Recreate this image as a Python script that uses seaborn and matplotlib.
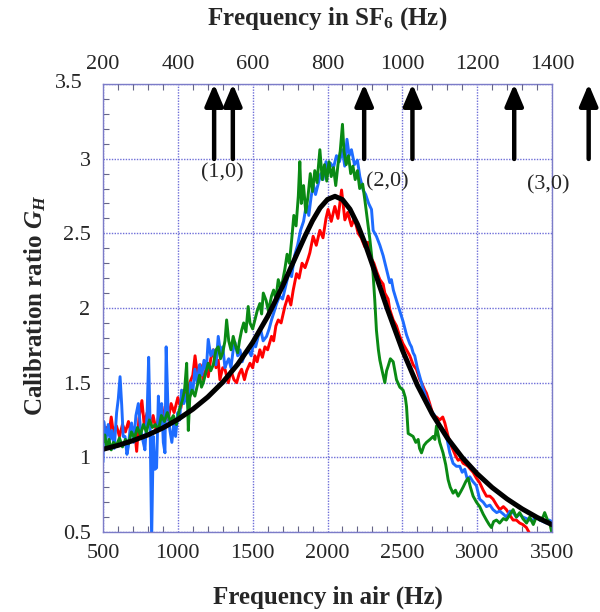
import numpy as np
import pandas as pd
import matplotlib
matplotlib.use("Agg")
import matplotlib.pyplot as plt
import seaborn as sns
from matplotlib.ticker import MultipleLocator

# ---------------- data ----------------
red_freq = [500, 510, 525, 540, 555, 570, 590, 610, 630, 650, 670, 690, 710, 725, 740, 760, 775, 795, 815, 835,
            855, 875, 895, 915, 935, 955, 975, 1000, 1020, 1040, 1060, 1080, 1100, 1115, 1130, 1150, 1170, 1190,
            1203, 1220, 1237, 1255, 1270, 1281, 1300, 1315, 1337, 1355, 1375, 1393, 1410, 1426, 1445, 1460, 1482,
            1500, 1515, 1530, 1548, 1565, 1582, 1600, 1626, 1640, 1655, 1671, 1690, 1715, 1737, 1755, 1771, 1793,
            1810, 1830, 1850, 1870, 1882, 1904, 1925, 1949, 1970, 1990, 2004, 2025, 2049, 2070, 2094, 2116, 2135,
            2160, 2180, 2205, 2225, 2249, 2270, 2294, 2310, 2330, 2350, 2372, 2383, 2405, 2416, 2439, 2461, 2483,
            2505, 2528, 2550, 2572, 2594, 2617, 2628, 2650, 2661, 2683, 2706, 2728, 2750, 2770, 2784, 2806, 2825,
            2839, 2856, 2873, 2890, 2906, 2925, 2939, 2955, 2973, 2995, 3017, 3040, 3062, 3085, 3106, 3130, 3151,
            3175, 3195, 3220, 3240, 3262, 3284, 3305, 3329, 3351, 3375, 3400, 3430, 3460, 3500]
red_G = [1.24, 1.12, 1.20, 1.15, 1.27, 1.16, 1.21, 1.14, 1.22, 1.17, 1.24, 1.15, 1.20, 1.04, 1.26, 1.38, 1.22, 1.30,
         1.20, 1.28, 1.18, 1.30, 1.22, 1.34, 1.25, 1.36, 1.30, 1.40, 1.33, 1.45, 1.38, 1.50, 1.55, 1.68, 1.56, 1.62,
         1.52, 1.60, 1.54, 1.66, 1.72, 1.60, 1.65, 1.52, 1.60, 1.59, 1.50, 1.58, 1.52, 1.50, 1.56, 1.59, 1.52, 1.58,
         1.63, 1.60, 1.68, 1.64, 1.72, 1.67, 1.74, 1.72, 1.81, 1.78, 1.88, 1.92, 1.90, 2.01, 2.08, 2.02, 2.12, 2.23,
         2.20, 2.30, 2.27, 2.33, 2.37, 2.48, 2.42, 2.52, 2.47, 2.60, 2.66, 2.58, 2.68, 2.60, 2.79, 2.59, 2.64, 2.55,
         2.60, 2.50, 2.47, 2.41, 2.44, 2.33, 2.30, 2.24, 2.19, 2.16, 2.10, 2.06, 1.99, 1.92, 1.88, 1.81, 1.76, 1.72,
         1.68, 1.62, 1.59, 1.52, 1.50, 1.45, 1.43, 1.36, 1.28, 1.27, 1.25, 1.27, 1.23, 1.14, 1.08, 1.05, 1.01, 0.98,
         0.99, 0.96, 0.95, 0.94, 0.92, 0.90, 0.86, 0.83, 0.78, 0.74, 0.74, 0.72, 0.68, 0.65, 0.67, 0.65, 0.61, 0.58,
         0.58, 0.56, 0.55, 0.53, 0.49, 0.46, 0.45, 0.47, 0.45, 0.44]

blue_freq = [500, 505, 520, 535, 547, 560, 575, 591, 602, 614, 625, 635, 647, 660, 669, 680, 691, 705, 720, 736,
             750, 765, 780, 795, 805, 815, 825, 836, 847, 858, 870, 880, 892, 903, 914, 922, 935, 947, 960, 972,
             985, 1000, 1012, 1025, 1040, 1055, 1070, 1085, 1100, 1114, 1130, 1145, 1160, 1175, 1190, 1203, 1220,
             1237, 1255, 1270, 1285, 1300, 1315, 1326, 1340, 1355, 1370, 1382, 1400, 1415, 1430, 1450, 1470, 1490,
             1505, 1520, 1537, 1555, 1570, 1593, 1610, 1626, 1645, 1660, 1680, 1700, 1726, 1745, 1760, 1780, 1800,
             1820, 1840, 1860, 1875, 1890, 1905, 1920, 1940, 1955, 1970, 1990, 2005, 2020, 2040, 2060, 2080, 2100,
             2115, 2130, 2145, 2160, 2180, 2200, 2216, 2238, 2255, 2275, 2294, 2305, 2327, 2350, 2372, 2394, 2416,
             2427, 2440, 2461, 2483, 2505, 2528, 2550, 2561, 2572, 2583, 2600, 2617, 2639, 2661, 2680, 2695, 2710,
             2728, 2750, 2775, 2795, 2817, 2839, 2861, 2884, 2900, 2917, 2935, 2951, 2970, 2995, 3017, 3040, 3062,
             3085, 3106, 3130, 3151, 3175, 3195, 3220, 3240, 3262, 3284, 3305, 3329, 3350, 3373, 3395, 3418, 3440,
             3462, 3480, 3500]
blue_G = [0.97, 1.24, 1.12, 1.22, 1.12, 1.18, 1.06, 1.30, 1.39, 1.54, 1.35, 1.14, 1.14, 1.02, 1.07, 1.18, 1.23, 1.10,
          1.28, 1.36, 1.20, 1.12, 1.05, 1.30, 1.67, 1.20, 0.45, 1.14, 0.92, 0.93, 1.41, 1.20, 1.36, 1.10, 1.03, 1.74,
          1.30, 1.18, 1.10, 1.22, 1.14, 1.30, 1.25, 1.45, 1.36, 1.42, 1.33, 1.50, 1.44, 1.59, 1.50, 1.62, 1.55, 1.65,
          1.58, 1.79, 1.68, 1.72, 1.62, 1.81, 1.70, 1.74, 1.60, 1.63, 1.66, 1.60, 1.72, 1.77, 1.68, 1.72, 1.64, 1.70,
          1.72, 1.68, 1.76, 1.74, 1.81, 1.85, 1.78, 1.81, 1.86, 1.92, 1.98, 2.03, 2.08, 2.06, 2.17, 2.25, 2.21, 2.35,
          2.42, 2.52, 2.58, 2.70, 2.62, 2.74, 2.83, 2.76, 2.84, 2.90, 2.86, 2.98, 2.92, 2.97, 2.94, 3.02, 2.98, 3.06,
          2.95, 3.13, 3.02, 3.06, 2.96, 2.99, 2.88, 2.79, 2.76, 2.70, 2.66, 2.52, 2.48, 2.42, 2.35, 2.26, 2.17, 2.19,
          2.12, 2.05, 1.98, 1.91, 1.82, 1.76, 1.74, 1.70, 1.68, 1.60, 1.54, 1.46, 1.39, 1.35, 1.30, 1.29, 1.25, 1.21,
          1.18, 1.14, 1.03, 0.96, 0.94, 0.94, 0.90, 0.92, 0.85, 0.87, 0.84, 0.81, 0.72, 0.70, 0.67, 0.68, 0.65, 0.63,
          0.64, 0.62, 0.60, 0.64, 0.63, 0.60, 0.62, 0.60, 0.59, 0.58, 0.58, 0.60, 0.58, 0.57, 0.56, 0.58, 0.57]

green_freq = [500, 512, 525, 540, 555, 570, 590, 610, 630, 650, 670, 690, 710, 730, 750, 770, 790, 810, 830, 850,
              870, 890, 910, 930, 950, 970, 990, 1010, 1030, 1045, 1059, 1070, 1080, 1095, 1114, 1130, 1145, 1158,
              1170, 1185, 1203, 1220, 1237, 1255, 1270, 1285, 1300, 1315, 1326, 1340, 1355, 1370, 1385, 1400, 1412,
              1426, 1440, 1455, 1470, 1482, 1500, 1515, 1530, 1548, 1560, 1571, 1590, 1605, 1626, 1640, 1655, 1671,
              1685, 1700, 1715, 1730, 1745, 1760, 1775, 1790, 1805, 1815, 1825, 1840, 1855, 1870, 1885, 1900, 1915,
              1930, 1949, 1965, 1980, 1995, 2010, 2025, 2040, 2055, 2070, 2085, 2100, 2110, 2125, 2140, 2155, 2170,
              2185, 2200, 2215, 2235, 2250, 2265, 2283, 2300, 2316, 2327, 2340, 2350, 2365, 2383, 2395, 2405, 2420,
              2439, 2450, 2461, 2483, 2505, 2520, 2528, 2539, 2555, 2572, 2590, 2606, 2615, 2628, 2645, 2661, 2685,
              2706, 2718, 2728, 2740, 2750, 2772, 2790, 2806, 2820, 2839, 2855, 2873, 2890, 2906, 2925, 2940, 2955,
              2973, 2995, 3017, 3040, 3062, 3080, 3095, 3110, 3129, 3150, 3175, 3195, 3215, 3240, 3262, 3284, 3305,
              3330, 3351, 3375, 3395, 3418, 3440, 3451, 3470, 3485, 3500]
green_G = [1.10, 1.15, 1.06, 1.12, 1.05, 1.10, 1.08, 1.13, 1.07, 1.12, 1.09, 1.17, 1.13, 1.20, 1.15, 1.22, 1.17, 1.25,
           1.20, 1.22, 1.18, 1.28, 1.24, 1.30, 1.24, 1.28, 1.22, 1.32, 1.38, 1.45, 1.63, 1.18, 1.40, 1.45, 1.41, 1.48,
           1.55, 1.47, 1.50, 1.56, 1.63, 1.58, 1.62, 1.72, 1.74, 1.66, 1.70, 1.78, 1.92, 1.78, 1.72, 1.81, 1.75, 1.70,
           1.78, 1.85, 1.90, 1.84, 2.01, 1.90, 1.86, 1.92, 1.98, 2.03, 1.96, 2.10, 2.05, 1.98, 2.08, 2.12, 2.06, 2.19,
           2.14, 2.18, 2.26, 2.36, 2.30, 2.45, 2.62, 2.55, 2.75, 2.98, 2.70, 2.82, 2.64, 2.75, 2.90, 2.78, 2.92, 2.84,
           3.06, 2.86, 2.96, 2.85, 2.98, 2.88, 2.94, 2.82, 2.96, 3.05, 3.23, 3.05, 2.96, 3.02, 2.90, 2.95, 2.86, 2.92,
           2.80, 2.83, 2.72, 2.60, 2.46, 2.30, 2.05, 1.85, 1.72, 1.65, 1.58, 1.50, 1.58, 1.61, 1.66, 1.64, 1.58, 1.52,
           1.47, 1.45, 1.40, 1.34, 1.16, 1.15, 1.14, 1.10, 1.12, 1.06, 1.03, 1.08, 1.10, 1.12, 1.14, 1.12, 1.21, 1.15,
           1.10, 1.03, 0.95, 0.85, 0.80, 0.76, 0.78, 0.74, 0.77, 0.80, 0.84, 0.86, 0.80, 0.74, 0.70, 0.67, 0.62, 0.58,
           0.55, 0.53, 0.57, 0.58, 0.56, 0.59, 0.58, 0.61, 0.65, 0.60, 0.63, 0.59, 0.56, 0.60, 0.55, 0.60, 0.58, 0.60,
           0.63, 0.58, 0.56, 0.49]

fit_freq = [500, 600, 700, 800, 900, 1000, 1100, 1200, 1300, 1400, 1500, 1600, 1700, 1800, 1850, 1900, 1950,
            2000, 2050, 2100, 2150, 2200, 2250, 2300, 2350, 2400, 2500, 2600, 2700, 2800, 2900, 3000, 3100,
            3200, 3300, 3400, 3500]
fit_G = [1.054, 1.080, 1.112, 1.150, 1.197, 1.254, 1.322, 1.404, 1.503, 1.623, 1.769, 1.943, 2.147, 2.371, 2.482,
         2.585, 2.670, 2.727, 2.748, 2.726, 2.662, 2.561, 2.434, 2.290, 2.141, 1.993, 1.719, 1.484, 1.290, 1.130,
         0.999, 0.890, 0.798, 0.721, 0.655, 0.598, 0.549]

x_ticks = [500, 1000, 1500, 2000, 2500, 3000, 3500]
y_ticks = [0.5, 1, 1.5, 2, 2.5, 3, 3.5]
y_tick_labels = ["0.5", "1", "1.5", "2", "2.5", "3", ""]
top_ticks = [200, 400, 600, 800, 1000, 1200, 1400]
mode_arrows_sf6 = [497, 547, 898, 1027, 1299, 1498]
mode_labels = ["(1,0)", "(2,0)", "(3,0)"]
mode_label_x_sf6 = [518, 961, 1391]
mode_label_y = [2.906, 2.848, 2.826]

# ---------------- style ----------------
sns.set_style("ticks")
plt.rcParams["font.family"] = ["Liberation Serif", "DejaVu Serif"]
plt.rcParams["mathtext.fontset"] = "custom"
plt.rcParams["mathtext.rm"] = "Liberation Serif:bold"
plt.rcParams["mathtext.it"] = "Liberation Serif:italic:bold"
plt.rcParams["mathtext.bf"] = "Liberation Serif:bold"

grid_color = "#6e6ed8"
frame_color = "#7c7cc8"

fig = plt.figure(figsize=(6.0, 6.12), dpi=100)
ax = fig.add_axes([103 / 600, 1 - 532 / 612, 449 / 600, 448 / 612])

runs = pd.concat([
    pd.DataFrame({"freq": red_freq, "G": red_G, "run": "run 1"}),
    pd.DataFrame({"freq": blue_freq, "G": blue_G, "run": "run 2"}),
    pd.DataFrame({"freq": green_freq, "G": green_G, "run": "run 3"}),
], ignore_index=True)
fit = pd.DataFrame({"freq": fit_freq, "G": fit_G})

palette = {"run 1": "#ff0000", "run 2": "#1e6cff", "run 3": "#0a8a14"}
sns.lineplot(data=runs, x="freq", y="G", hue="run", hue_order=["run 1", "run 2", "run 3"],
             palette=palette, estimator=None, sort=False, linewidth=2.1, legend=False, ax=ax)
sns.lineplot(data=fit, x="freq", y="G", color="black", linewidth=3.6, estimator=None, sort=False, ax=ax)

ax.set_xlim(500, 3500)
ax.set_ylim(0.5, 3.5)
ax.set_xticks(x_ticks)
ax.set_xticklabels([str(t) for t in x_ticks])
ax.set_yticks(y_ticks)
ax.set_yticklabels(y_tick_labels)
ax.xaxis.set_minor_locator(MultipleLocator(100))
ax.yaxis.set_minor_locator(MultipleLocator(0.1))
ax.tick_params(axis="both", which="major", direction="in", length=0, labelsize=16)
ax.tick_params(axis="both", which="minor", direction="in", length=4, width=0.8, color="#666688")
ax.tick_params(axis="x", which="major", pad=9)
ax.tick_params(axis="y", which="major", pad=9)
ax.set_xlabel("")
ax.set_ylabel("")
ax.grid(True, which="major", color=grid_color, linestyle=(0, (1, 1)), linewidth=1.0)
for s in ax.spines.values():
    s.set_color(frame_color)
    s.set_linewidth(1.0)
    s.set_visible(True)

# shifted "3.5" label
ax.text(-0.045, 3.5, "3.5", transform=ax.get_yaxis_transform(), ha="right", va="center",
        fontsize=16)

# top axis (SF6)
ax2 = ax.twiny()
ax2.set_xlim(200, 1400)
ax2.set_xticks(top_ticks)
ax2.set_xticklabels([str(t) for t in top_ticks])
ax2.xaxis.set_minor_locator(MultipleLocator(40))
ax2.tick_params(axis="x", which="major", direction="in", length=0, labelsize=16, pad=7)
ax2.tick_params(axis="x", which="minor", direction="in", length=4, width=0.8, color="#666688")
for s in ax2.spines.values():
    s.set_visible(False)

# mode arrows
for xa in mode_arrows_sf6:
    ax2.annotate("", xy=(xa, 3.5), xytext=(xa, 2.998), xycoords="data", textcoords="data",
                 annotation_clip=False,
                 arrowprops=dict(arrowstyle="-|>,head_length=1.3,head_width=0.55", lw=3.2,
                                 color="black", shrinkA=0, shrinkB=0))
for lab, lx, ly in zip(mode_labels, mode_label_x_sf6, mode_label_y):
    ax2.text(lx, ly, lab, ha="center", va="center", fontsize=16, clip_on=False)

# axis titles
fig.text(327.5 / 600, 1 - 604 / 612, "Frequency in air (Hz)", ha="center", va="baseline",
         fontsize=18, fontweight="bold")
fig.text(327.5 / 600, 1 - 25 / 612, r"Frequency in SF$_\mathbf{6}$ (Hz)", ha="center", va="baseline",
         fontsize=18, fontweight="bold")
fig.text(35 / 600, 1 - 305 / 612, r"Calibration ratio $G_H$", ha="center", va="center",
         rotation=90, fontsize=18, fontweight="bold")

fig.savefig("out.png", dpi=100)
